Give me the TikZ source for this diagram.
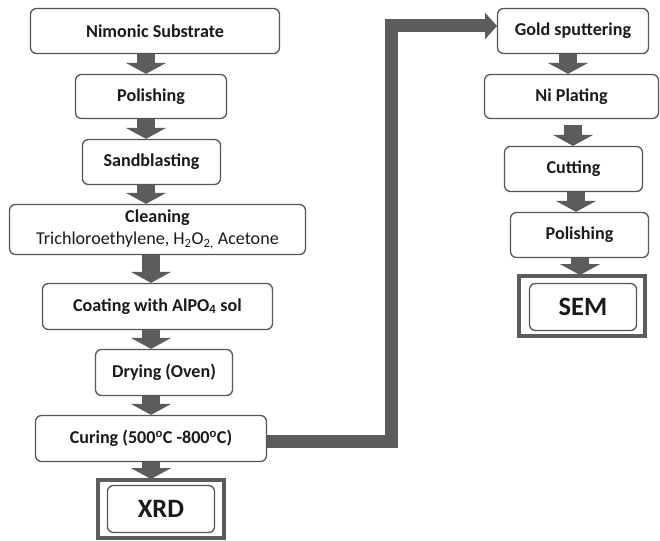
\documentclass[tikz,border=0pt]{standalone}
\usepackage{fontspec}
\setmainfont{Carlito}
\usetikzlibrary{arrows.meta}
\definecolor{edge}{HTML}{555555}
\definecolor{arr}{HTML}{5C5C5C}
\definecolor{ink}{HTML}{1A1A1A}
\begin{document}
\begin{tikzpicture}[x=1pt,y=-1pt,
  box/.style={draw=edge, line width=1.3pt, rounded corners=6pt, fill=white,
    inner sep=0pt, align=center, text=ink,
    font=\fontsize{18.1}{22.5}\selectfont\bfseries},
  big/.style={box, font=\fontsize{26.5}{29}\selectfont\bfseries},
  frame/.style={draw=arr, line width=4pt, inner sep=0pt},
  blk/.style={draw=arr, line width=18pt, -{Triangle[width=40pt,length=11pt]}},
  link/.style={draw=arr, line width=13pt, -{Triangle[width=26pt,length=12pt]}}]
\useasboundingbox (0,0) rectangle (660,540);

% left column
\node[box, minimum width=249pt, minimum height=45pt] (n1) at (155,31) {Nimonic Substrate};
\node[box, minimum width=151pt, minimum height=44pt] (n2) at (151,96.5) {Polishing};
\node[box, minimum width=138pt, minimum height=45pt] (n3) at (151.5,162) {Sandblasting};
\node[box, minimum width=296pt, minimum height=50pt] (n4) at (157.5,229.5)
  {Cleaning\\\mdseries Trichloroethylene, H\textsubscript{2}O\textsubscript{2,} Acetone};
\node[box, minimum width=230pt, minimum height=46pt] (n5) at (157.5,306.5) {Coating with AlPO\textsubscript{4} sol};
\node[box, minimum width=137pt, minimum height=46pt] (n6) at (164,372.5) {Drying (Oven)};
\node[box, minimum width=231pt, minimum height=46pt] (n7) at (151,438.5) {Curing (500\textsuperscript{o}C -800\textsuperscript{o}C)};
\node[frame, minimum width=126pt, minimum height=58pt] (xf) at (161,509) {};
\node[big, minimum width=107pt, minimum height=47pt] (xrd) at (161,509) {XRD};

% right column
\node[box, minimum width=151pt, minimum height=45pt] (r1) at (573,31) {Gold sputtering};
\node[box, minimum width=174pt, minimum height=44pt] (r2) at (571.5,96.5) {Ni Plating};
\node[box, minimum width=138pt, minimum height=45pt] (r3) at (573.5,169) {Cutting};
\node[box, minimum width=138pt, minimum height=45pt] (r4) at (579.5,235) {Polishing};
\node[frame, minimum width=126pt, minimum height=60pt] (sf) at (582,306) {};
\node[big, minimum width=107pt, minimum height=47pt] (sem) at (583,307) {SEM};

% column axes
\coordinate (ca) at (146,0);
\coordinate (cb) at (151,0);
\coordinate (g1) at (568,0);
\coordinate (g2) at (573,0);
\coordinate (g3) at (576,0);
\coordinate (g4) at (580,0);

% block arrows
\draw[blk] (n1.south -| ca) -- (n2.north -| ca);
\draw[blk] (n2.south -| ca) -- (n3.north -| ca);
\draw[blk] (n3.south -| ca) -- (n4.north -| ca);
\draw[blk] (n4.south -| cb) -- (n5.north -| cb);
\draw[blk] (n5.south -| cb) -- (n6.north -| cb);
\draw[blk] (n6.south -| cb) -- (n7.north -| cb);
\draw[blk] (n7.south -| cb) -- ([yshift=-1pt]xf.north -| cb);

\draw[blk] (r1.south -| g1) -- (r2.north -| g1);
\draw[blk, shorten <=6pt] (r2.south -| g2) -- (r3.north -| g2);
\draw[blk] (r3.south -| g3) -- (r4.north -| g3);
\draw[blk] (r4.south -| g4) -- ([yshift=-1pt]sf.north -| g4);

% long connector
\coordinate (cs) at (267,441);
\coordinate (bend) at (391.5,0);
\coordinate (ce) at (497,26);
\draw[link] (cs) -- (cs -| bend) -- (bend |- ce) -- (ce);
\end{tikzpicture}
\end{document}
